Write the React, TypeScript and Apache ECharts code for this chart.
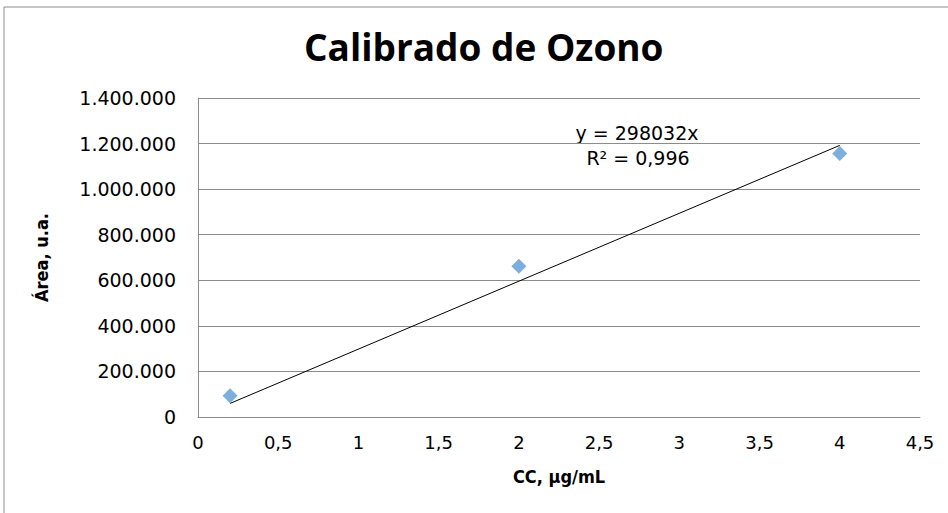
import React, { useEffect, useRef } from "react";
import * as echarts from "echarts";

const title = "Calibrado de Ozono";
const xName = "CC, µg/mL";
const yName = "Área, u.a.";
const concentrations = [0.2, 2, 4];
const areas = [93000, 662000, 1156000];
const trendX = [0.2, 4];
const trendY = [59606, 1192128];
const equationLines = ["y = 298032x", "R² = 0,996"];

const FONT = "'DejaVu Sans Condensed', 'DejaVu Sans', sans-serif";
const TICKFONT = "'DejaVu Sans', sans-serif";

function fmtY(v: number): string {
  return String(Math.round(v)).replace(/\B(?=(\d{3})+(?!\d))/g, ".");
}
function fmtX(v: number): string {
  return String(v).replace(".", ",");
}

export default function App() {
  const ref = useRef<HTMLDivElement>(null);
  useEffect(() => {
    if (!ref.current) return;
    const chart = echarts.init(ref.current, undefined, { renderer: "svg" });
    chart.setOption({
      animation: false,
      backgroundColor: "#ffffff",
      title: {
        text: title,
        left: 299,
        top: 23,
        textStyle: { fontFamily: "'Open Sans', sans-serif", fontSize: 37, fontWeight: "bold", color: "#000" },
      },
      grid: { left: 198, right: 28, top: 98, bottom: 96 },
      xAxis: {
        type: "value",
        min: 0,
        max: 4.5,
        interval: 0.5,
        name: xName,
        nameLocation: "middle",
        nameGap: 50,
        nameTextStyle: { fontFamily: FONT, fontSize: 18, fontWeight: "bold", color: "#000" },
        axisLine: { show: true, lineStyle: { color: "#8c8c8c", width: 1 } },
        axisTick: { show: false },
        splitLine: { show: false },
        axisLabel: { formatter: fmtX, fontFamily: TICKFONT, fontSize: 18, color: "#000", margin: 16 },
      },
      yAxis: {
        type: "value",
        min: 0,
        max: 1400000,
        interval: 200000,
        name: yName,
        nameLocation: "middle",
        nameGap: 148,
        nameRotate: 90,
        nameTextStyle: { fontFamily: FONT, fontSize: 18, fontWeight: "bold", color: "#000" },
        axisLine: { show: true, lineStyle: { color: "#8c8c8c", width: 1 } },
        axisTick: { show: false },
        splitLine: { show: true, lineStyle: { color: "#8c8c8c", width: 1 } },
        axisLabel: { formatter: fmtY, fontFamily: TICKFONT, fontSize: 19, color: "#000", margin: 22 },
      },
      series: [
        {
          type: "line",
          data: trendX.map((x, i) => [x, trendY[i]]),
          showSymbol: false,
          symbol: "none",
          lineStyle: { color: "#000", width: 1 },
          z: 2,
        },
        {
          type: "scatter",
          data: concentrations.map((x, i) => [x, areas[i]]),
          symbol: "diamond",
          symbolSize: 15,
          itemStyle: { color: "#5B9BD5" },
          z: 3,
        },
      ],
      graphic: [
        {
          type: "rect",
          shape: { x: 4, y: 7, width: 960, height: 520 },
          style: { fill: "none", stroke: "#8c8c8c", lineWidth: 1 },
          silent: true,
        },
        {
          type: "text",
          x: 637,
          y: 133,
          style: { text: equationLines[0], fontFamily: TICKFONT, fontSize: 19, fill: "#000", textAlign: "center", textVerticalAlign: "middle" },
        },
        {
          type: "text",
          x: 638,
          y: 158,
          style: { text: equationLines[1], fontFamily: TICKFONT, fontSize: 19, fill: "#000", textAlign: "center", textVerticalAlign: "middle" },
        },
      ],
    });
    return () => chart.dispose();
  }, []);
  return <div ref={ref} style={{ width: 948, height: 513, position: "absolute", left: 0, top: 0 }} />;
}
